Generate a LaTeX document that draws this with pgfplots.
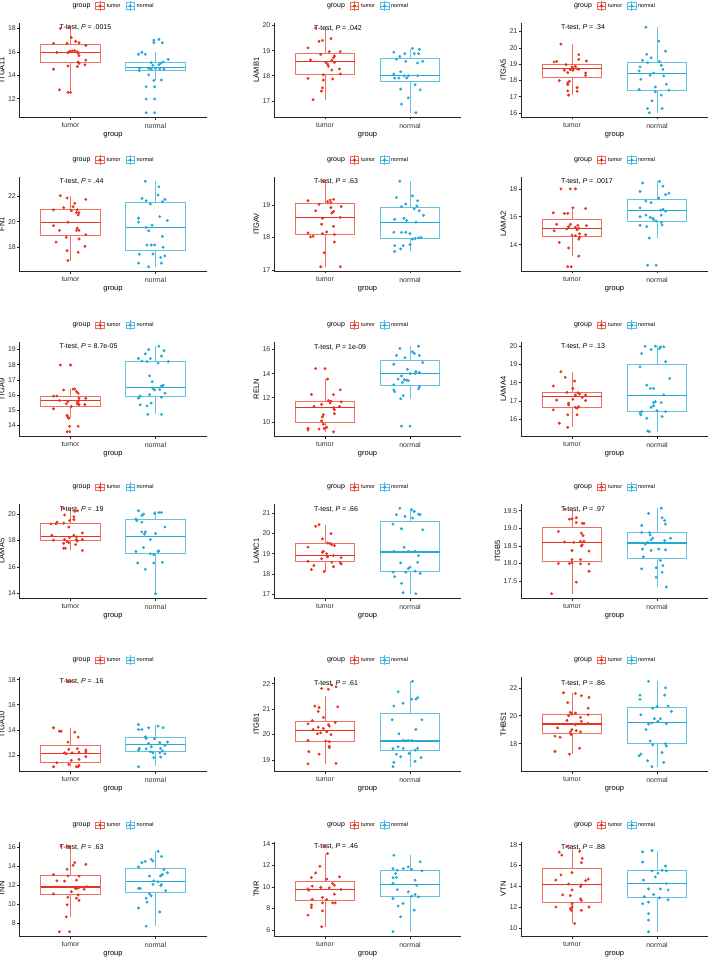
\documentclass[border=0pt]{standalone}
\usepackage{fontspec}
\setmainfont{Liberation Sans}
\usepackage{pgfplots}
\pgfplotsset{compat=1.18}
\definecolor{tumorc}{HTML}{E8341E}
\definecolor{normalc}{HTML}{22A9D8}
\newcommand{\glyph}[1]{\draw[#1!75, line width=0.6pt] (0pt,-3.2pt) rectangle (8.5pt,3.2pt); \draw[#1!75, line width=0.6pt] (0pt,0pt)--(8.5pt,0pt) (4.25pt,-4.8pt)--(4.25pt,4.8pt); \fill[#1] (4.25pt,0pt) circle (1.3pt);}
\newcommand{\leg}{%
\addlegendimage{empty legend}\addlegendentry{\fontsize{7}{8}\selectfont group}
\addlegendimage{legend image code/.code={\glyph{tumorc}}}\addlegendentry{tumor}
\addlegendimage{legend image code/.code={\glyph{normalc}}}\addlegendentry{normal}}
\newcommand{\bxa}[9]{%
\addplot[forget plot, draw=#1!70, line width=0.9pt] coordinates {(#3,#5)(#3,#6)};
\addplot[forget plot, draw=#1!70, line width=0.9pt] coordinates {(#3,#8)(#3,#9)};
\addplot[forget plot, draw=#1!70, line width=1pt, line cap=rect] coordinates {(#2,#6)(#4,#6)(#4,#8)(#2,#8)(#2,#6)};
\addplot[forget plot, draw=#1, line width=1.2pt] coordinates {(#2,#7)(#4,#7)};}
\newcommand{\bx}[7]{\ifnum#2=1 \bxa{#1}{0.65}{1}{1.35}{#3}{#4}{#5}{#6}{#7}\else\bxa{#1}{1.65}{2}{2.35}{#3}{#4}{#5}{#6}{#7}\fi}
\newcommand{\pts}[2]{\addplot[forget plot, only marks, mark=*, mark size=1.25pt, color=#1] coordinates {#2};}
\newcommand{\ttest}[2]{\node[anchor=west, font=\fontsize{7}{8}\selectfont, inner sep=0pt] at (axis cs:0.87,#1) {T-test,\ \textit{P} = #2};}
\pgfplotsset{
 bp/.style={
  scale only axis, width=187pt, height=94pt, anchor=north west,
  enlargelimits=false,
  xmin=0.4, xmax=2.6, xtick={1,2}, xticklabels={tumor,normal}, xlabel={group},
  axis x line*=bottom, axis y line*=left,
  axis line style={line width=0.8pt, black!85, -},
  tick align=outside, major tick length=2.5pt, tick style={line width=0.6pt, black!85},
  ticklabel style={font=\fontsize{7}{8}\selectfont, text=black!80},
  yticklabel style={inner sep=1pt},
  label style={font=\fontsize{7.5}{8}\selectfont},
  xlabel style={yshift=3pt},
  ylabel style={yshift=-1pt},
  /pgf/number format/assume math mode=true,
  legend style={at={(0.5,1)}, anchor=center, yshift=17pt, draw=none, fill=none, legend columns=3, font=\fontsize{5.5}{6}\selectfont, /tikz/every even column/.append style={column sep=3pt}, inner sep=0pt, cells={anchor=center}},
 }
}
\begin{document}
\begin{tikzpicture}
\useasboundingbox (0,0) rectangle (709pt,-957pt);
% ---------- Row 1
\begin{axis}[bp, at={(19.5pt,-23pt)}, ylabel={ITGA11}, ymin=10.44, ymax=18.47, ytick={12,14,16,18}]
\leg
\bx{tumorc}{1}{12.54}{15.08}{15.96}{16.64}{18.1}
\bx{normalc}{2}{13.56}{14.4}{14.66}{15.11}{15.96}
\pts{tumorc}{(0.88,18.0)(0.98,18.1)(0.8,16.73)(1.01,17.24)(0.96,16.73)(1.06,16.9)(1.1,16.78)(1.18,16.55)(0.84,15.96)(0.97,15.93)(0.99,16.05)(1.02,16.08)(1.05,16.1)(1.08,16.0)(1.1,15.68)(1.09,15.88)(1.18,15.3)(1.09,15.14)(1.1,15.03)(1.17,14.9)(1.08,14.75)(0.97,14.8)(0.8,14.52)(0.87,12.76)(0.97,12.54)(1.0,12.54)}
\pts{normalc}{(1.98,17.0)(1.98,16.8)(2.04,17.07)(2.08,16.78)(1.8,15.8)(1.84,15.96)(1.88,15.8)(2.15,15.37)(2.09,15.14)(2.06,15.03)(2.04,14.9)(1.95,15.08)(1.97,14.86)(1.92,14.6)(1.95,14.52)(2.0,14.6)(2.05,14.55)(2.1,14.52)(1.81,14.6)(1.81,14.4)(1.92,14.04)(1.98,13.56)(2.07,13.6)(1.89,13.02)(1.99,13.02)(1.89,11.97)(1.99,11.97)(1.89,10.8)(1.99,10.8)}
\ttest{18.1}{.0015}
\end{axis}
\begin{axis}[bp, at={(274pt,-23pt)}, ylabel={LAMB1}, ymin=16.36, ymax=20.1, ytick={17,18,19,20}]
\leg
\bx{tumorc}{1}{17.05}{18.04}{18.57}{18.89}{19.9}
\bx{normalc}{2}{16.53}{17.77}{18.02}{18.7}{19.05}
\pts{tumorc}{(0.89,19.9)(0.97,19.41)(0.93,19.37)(1.07,19.48)(0.8,19.11)(1.18,18.96)(1.05,18.96)(0.95,18.85)(1.11,18.79)(1.1,18.72)(1.08,18.62)(0.83,18.63)(1.01,18.53)(1.03,18.46)(1.11,18.53)(1.04,18.38)(1.17,18.27)(1.08,18.23)(1.18,18.07)(0.98,18.04)(0.8,17.9)(1.09,17.87)(0.98,17.83)(0.97,17.52)(0.96,17.39)(0.86,17.05)}
\pts{normalc}{(2.03,19.09)(2.11,19.05)(1.81,18.94)(1.94,18.88)(2.05,18.88)(2.1,18.88)(1.88,18.77)(1.84,18.66)(1.95,18.57)(2.15,18.57)(2.09,18.51)(1.89,18.16)(1.81,18.07)(1.98,18.0)(1.93,18.0)(2.09,18.0)(1.82,17.91)(1.87,17.91)(1.96,17.91)(2.06,17.64)(1.89,17.47)(2.12,17.44)(1.98,17.12)(1.9,16.87)(2.07,16.53)}
\ttest{19.9}{.042}
\end{axis}
\begin{axis}[bp, at={(521pt,-23pt)}, ylabel={ITGA5}, ymin=15.76, ymax=21.52, ytick={16,17,18,19,20,21}]
\leg
\bx{tumorc}{1}{17.1}{18.15}{18.72}{18.99}{20.23}
\bx{normalc}{2}{16.02}{17.4}{18.42}{19.09}{21.26}
\pts{tumorc}{(0.87,20.23)(1.08,19.58)(1.08,19.29)(1.17,19.19)(0.79,19.13)(0.82,19.17)(0.93,18.97)(1.0,18.83)(1.04,18.87)(1.02,18.72)(1.06,18.72)(0.98,18.66)(1.01,18.62)(1.08,18.68)(0.91,18.62)(0.95,18.48)(1.16,18.46)(1.16,18.3)(0.85,17.99)(0.97,17.95)(0.95,17.85)(0.95,17.75)(1.06,17.56)(0.95,17.36)(1.06,17.34)(0.96,17.1)}
\pts{normalc}{(1.87,21.26)(2.02,20.41)(2.1,19.8)(1.88,19.6)(1.93,19.39)(1.83,19.23)(1.89,19.09)(2.03,19.17)(2.05,18.93)(1.8,18.83)(2.07,18.68)(1.79,18.58)(1.96,18.46)(1.92,18.32)(2.08,18.28)(1.81,18.07)(2.11,17.77)(1.98,17.6)(1.79,17.44)(2.14,17.4)(1.98,17.3)(2.05,17.1)(1.94,16.75)(1.89,16.28)(2.06,16.28)(1.91,16.02)}
\ttest{21.26}{.34}
\end{axis}
% ---------- Row 2
\begin{axis}[bp, at={(19.5pt,-177pt)}, ylabel={FN1}, ymin=16.15, ymax=23.49, ytick={18,20,22}]
\leg
\bx{tumorc}{1}{16.97}{18.9}{19.94}{20.92}{22.03}
\bx{normalc}{2}{16.48}{17.77}{19.55}{21.48}{23.16}
\pts{tumorc}{(0.88,22.03)(0.96,21.85)(1.18,21.74)(1.05,21.43)(1.03,21.17)(0.92,21.1)(0.8,20.92)(1.01,20.86)(1.08,20.92)(1.07,20.71)(1.1,20.71)(1.09,20.53)(0.97,19.96)(0.8,19.7)(0.87,19.32)(1.08,19.5)(1.07,19.32)(1.1,19.32)(1.18,18.98)(0.95,18.77)(1.1,18.65)(0.83,18.41)(1.17,18.08)(0.96,17.74)(1.09,17.61)(0.97,16.97)}
\pts{normalc}{(1.88,23.16)(2.04,22.72)(2.03,22.08)(1.84,21.82)(2.11,21.74)(1.89,21.64)(2.08,21.56)(1.94,21.38)(1.8,20.27)(1.8,19.96)(2.05,20.4)(2.14,20.09)(1.96,19.73)(1.89,19.55)(1.92,19.29)(2.08,18.85)(1.9,18.18)(1.95,18.18)(1.99,18.18)(2.09,18.0)(1.81,17.46)(1.97,17.48)(2.11,17.33)(2.06,17.2)(1.8,16.76)(2.07,16.76)(1.92,16.48)}
\ttest{23.16}{.44}
\end{axis}
\begin{axis}[bp, at={(274pt,-177pt)}, ylabel={ITGAV}, ymin=16.97, ymax=19.86, ytick={17,18,19}]
\leg
\bx{tumorc}{1}{17.1}{18.1}{18.62}{19.05}{19.73}
\bx{normalc}{2}{17.57}{17.98}{18.47}{18.92}{19.73}
\pts{tumorc}{(0.98,19.73)(0.8,19.13)(0.93,19.02)(1.03,19.1)(1.06,19.15)(1.1,19.17)(1.07,19.07)(1.19,18.95)(1.07,18.92)(0.89,18.82)(1.1,18.8)(1.08,18.75)(0.97,18.59)(1.18,18.62)(0.96,18.41)(0.97,18.12)(1.02,18.17)(1.1,18.34)(0.8,18.14)(0.83,18.02)(0.86,18.04)(1.11,18.09)(1.11,17.86)(0.99,17.53)(0.95,17.1)(1.18,17.1)}
\pts{normalc}{(1.88,19.73)(1.84,19.23)(2.03,19.28)(2.09,19.13)(1.95,19.03)(1.9,18.95)(2.08,18.97)(2.05,18.88)(2.11,18.82)(2.16,18.68)(1.82,18.56)(1.93,18.59)(1.96,18.52)(2.07,18.47)(1.81,18.16)(1.9,18.16)(1.95,18.16)(2.0,18.12)(2.06,17.97)(2.1,17.99)(2.13,18.0)(2.03,17.95)(1.82,17.75)(1.92,17.75)(2.0,17.78)(1.89,17.65)(1.82,17.57)}
\ttest{19.73}{.63}
\end{axis}
\begin{axis}[bp, at={(521pt,-177pt)}, ylabel={LAMA2}, ymin=12.11, ymax=18.85, ytick={14,16,18}]
\leg
\bx{tumorc}{1}{13.18}{14.59}{15.18}{15.81}{16.64}
\bx{normalc}{2}{14.47}{15.69}{16.42}{17.22}{18.54}
\pts{tumorc}{(0.87,18.0)(0.98,18.0)(1.04,18.0)(1.01,16.64)(1.16,16.59)(0.78,16.28)(0.91,16.24)(0.95,16.24)(0.82,15.46)(0.98,15.46)(1.07,15.39)(1.17,15.36)(0.96,15.29)(1.04,15.25)(0.94,15.13)(1.08,15.18)(1.06,15.06)(0.79,14.99)(1.09,14.78)(1.0,14.68)(1.04,14.64)(1.16,14.71)(1.09,14.54)(1.08,14.4)(0.85,14.16)(0.96,13.76)(1.08,13.18)(0.95,12.42)(0.99,12.42)}
\pts{normalc}{(1.83,18.42)(2.03,18.54)(1.8,17.81)(2.07,18.19)(2.14,17.69)(2.1,17.58)(2.02,17.34)(1.87,17.13)(1.93,17.01)(1.8,16.64)(2.07,16.54)(2.04,16.47)(2.1,16.4)(1.87,16.12)(2.05,16.12)(1.8,16.0)(1.92,15.95)(1.95,15.88)(1.96,15.81)(1.99,15.69)(2.05,15.6)(2.06,15.41)(1.8,15.39)(1.88,15.29)(1.91,14.47)(1.89,12.52)(1.99,12.52)}
\ttest{18.5}{.0017}
\end{axis}
% ---------- Row 3
\begin{axis}[bp, at={(19.5pt,-342pt)}, ylabel={ITGA9}, ymin=13.29, ymax=19.5, ytick={14,15,16,17,18,19}]
\leg
\bx{tumorc}{1}{14.46}{15.26}{15.63}{15.91}{16.39}
\bx{normalc}{2}{14.72}{15.87}{16.5}{18.2}{19.22}
\pts{tumorc}{(0.88,17.98)(1.0,17.98)(0.92,16.33)(1.03,16.39)(1.05,16.39)(1.07,16.22)(1.09,16.11)(0.8,15.93)(0.84,15.93)(1.18,15.78)(1.1,15.8)(0.87,15.63)(1.1,15.63)(0.97,15.57)(1.08,15.52)(0.95,15.41)(1.08,15.41)(1.1,15.37)(1.17,15.37)(1.01,15.24)(0.8,15.09)(0.96,14.65)(0.97,14.54)(0.98,14.46)(0.99,13.93)(1.09,13.93)(0.96,13.57)(0.99,13.57)}
\pts{normalc}{(2.04,19.22)(1.92,19.0)(2.1,18.93)(1.8,18.41)(1.88,18.72)(1.94,18.41)(2.07,18.57)(1.84,18.24)(1.9,18.2)(2.03,18.11)(2.15,18.2)(1.93,17.26)(1.96,16.87)(2.09,16.65)(2.07,16.59)(1.97,16.43)(1.99,16.33)(2.05,16.35)(2.11,16.11)(1.93,16.02)(1.82,15.93)(1.8,15.8)(2.07,15.85)(1.95,15.46)(1.82,15.35)(1.9,15.28)(1.91,14.72)(2.07,14.72)}
\ttest{19.22}{8.7e-05}
\end{axis}
\begin{axis}[bp, at={(274pt,-342pt)}, ylabel={RELN}, ymin=8.83, ymax=16.62, ytick={10,12,14,16}]
\leg
\bx{tumorc}{1}{9.18}{9.95}{11.17}{11.66}{13.55}
\bx{normalc}{2}{11.91}{13.0}{14.04}{15.1}{16.27}
\pts{tumorc}{(0.89,14.42)(1.0,14.42)(1.03,13.55)(0.84,12.26)(1.1,12.26)(1.18,12.65)(1.04,11.77)(1.07,11.72)(1.19,11.66)(1.06,11.56)(0.96,11.45)(0.87,11.28)(1.17,11.28)(1.1,11.17)(1.11,11.01)(1.11,10.68)(0.98,10.6)(0.97,10.41)(0.96,10.08)(0.98,9.81)(1.02,9.54)(0.99,9.45)(0.8,9.45)(0.8,9.32)(0.93,9.4)(1.1,9.18)}
\pts{normalc}{(1.88,16.08)(2.1,16.27)(2.03,15.81)(2.05,15.67)(2.11,15.51)(1.84,15.51)(1.94,15.32)(1.81,14.77)(2.15,14.91)(1.97,14.36)(2.07,14.17)(2.06,14.01)(2.0,14.01)(2.11,14.09)(1.9,13.82)(1.86,13.55)(1.93,13.49)(1.96,13.46)(1.98,13.41)(1.91,13.27)(1.81,13.08)(2.11,12.92)(2.1,12.73)(1.81,12.65)(1.82,12.51)(1.92,12.18)(1.89,11.91)(1.9,9.65)(2.0,9.65)}
\ttest{16.15}{1e-09}
\end{axis}
\begin{axis}[bp, at={(521pt,-342pt)}, ylabel={LAMA4}, ymin=15.08, ymax=20.23, ytick={16,17,18,19,20}]
\leg
\bx{tumorc}{1}{15.55}{16.64}{17.24}{17.47}{18.6}
\bx{normalc}{2}{15.31}{16.42}{17.29}{19.0}{20.0}
\pts{tumorc}{(0.87,18.6)(0.92,18.29)(1.03,18.09)(0.78,17.82)(1.01,17.69)(0.94,17.47)(1.07,17.45)(1.09,17.38)(1.04,17.33)(1.16,17.33)(1.12,17.2)(1.01,17.09)(0.82,17.05)(1.16,17.02)(0.96,16.87)(0.96,16.78)(1.08,16.69)(1.04,16.65)(1.06,16.6)(0.78,16.51)(0.95,16.24)(1.06,16.24)(0.85,15.78)(0.95,15.55)}
\pts{normalc}{(1.86,20.0)(1.98,20.0)(2.04,19.96)(2.08,19.96)(2.03,19.87)(1.93,19.82)(1.82,19.6)(2.1,19.15)(1.8,18.87)(2.15,18.24)(1.88,17.87)(1.92,17.69)(1.96,17.69)(2.08,17.33)(1.98,16.96)(1.96,16.91)(2.05,16.91)(1.96,16.73)(1.93,16.65)(1.82,16.42)(1.8,16.33)(1.81,16.24)(2.1,16.42)(2.0,16.47)(2.06,16.15)(1.88,16.05)(1.89,15.36)(1.91,15.31)}
\ttest{20.0}{.13}
\end{axis}
% ---------- Row 4
\begin{axis}[bp, at={(19.5pt,-504pt)}, ylabel={LAMA5}, ymin=13.66, ymax=20.76, ytick={14,16,18,20}]
\leg
\bx{tumorc}{1}{17.25}{17.99}{18.28}{19.31}{20.44}
\bx{normalc}{2}{13.98}{17.0}{18.33}{19.56}{20.25}
\pts{tumorc}{(0.92,20.44)(1.08,20.25)(1.05,20.2)(0.93,19.93)(1.04,19.8)(1.04,19.58)(0.84,19.39)(0.99,19.51)(0.77,19.26)(0.92,19.31)(0.83,19.26)(0.98,19.02)(0.78,18.4)(1.04,18.4)(1.07,18.28)(0.99,18.23)(1.14,18.57)(0.93,18.08)(1.07,18.08)(0.96,17.91)(1.08,17.96)(1.14,18.08)(0.8,18.03)(0.92,17.79)(0.98,17.84)(1.06,17.7)(0.92,17.42)(0.94,17.42)(1.14,17.25)}
\pts{normalc}{(1.8,20.25)(1.99,20.05)(2.04,20.12)(2.07,20.12)(1.86,20.0)(1.84,19.9)(1.77,19.63)(1.78,19.51)(1.84,19.39)(2.11,19.02)(1.84,18.65)(1.88,18.65)(2.0,18.53)(1.87,18.48)(1.94,18.08)(1.86,17.47)(1.77,17.17)(2.03,17.17)(2.04,17.22)(1.94,17.0)(1.98,16.93)(1.79,16.31)(1.98,16.31)(2.08,16.36)(1.88,15.82)(2.0,13.98)}
\ttest{20.35}{.19}
\end{axis}
\begin{axis}[bp, at={(274pt,-504pt)}, ylabel={LAMC1}, ymin=16.82, ymax=21.45, ytick={17,18,19,20,21}]
\leg
\bx{tumorc}{1}{18.13}{18.6}{18.91}{19.48}{20.4}
\bx{normalc}{2}{17.03}{18.13}{19.09}{20.59}{21.24}
\pts{tumorc}{(0.93,20.43)(0.89,20.35)(1.07,19.99)(0.97,19.73)(1.03,19.53)(1.06,19.5)(1.08,19.45)(1.11,19.4)(0.8,19.33)(0.98,19.12)(0.97,19.07)(1.02,19.0)(1.1,18.91)(1.03,18.85)(1.19,18.8)(0.96,18.75)(0.8,18.63)(1.08,18.58)(1.18,18.55)(1.19,18.5)(0.87,18.42)(1.1,18.36)(0.84,18.22)(0.99,18.13)}
\pts{normalc}{(1.88,21.24)(2.05,21.08)(2.02,21.16)(2.1,20.95)(2.12,20.92)(1.84,20.92)(1.94,20.84)(2.03,20.76)(1.8,20.46)(1.9,20.23)(2.15,20.18)(1.93,19.32)(1.81,19.12)(1.98,19.12)(2.06,19.12)(2.1,18.91)(1.89,18.55)(2.09,18.58)(2.0,18.34)(1.98,18.27)(1.8,18.09)(1.95,18.09)(2.06,18.14)(2.12,18.03)(1.82,17.87)(1.9,17.54)(1.92,17.08)(2.07,17.03)}
\ttest{21.2}{.66}
\end{axis}
\begin{axis}[bp, at={(521pt,-504pt)}, ylabel={ITGB5}, ymin=17.02, ymax=19.69, ytick={17.5,18,18.5,19,19.5}, yticklabel style={/pgf/number format/.cd, fixed, fixed zerofill, precision=1}]
\leg
\bx{tumorc}{1}{17.14}{18.06}{18.6}{19.02}{19.54}
\bx{normalc}{2}{17.33}{18.14}{18.58}{18.88}{19.57}
\pts{tumorc}{(0.92,19.54)(0.97,19.26)(1.0,19.27)(1.05,19.3)(1.05,19.16)(1.12,19.14)(1.14,19.14)(0.84,18.91)(1.11,18.86)(1.13,18.79)(0.91,18.61)(1.02,18.6)(1.1,18.63)(1.14,18.63)(1.12,18.53)(1.11,18.5)(1.0,18.37)(1.2,18.35)(1.0,18.11)(1.1,18.11)(1.0,18.02)(0.84,18.0)(0.97,18.0)(1.1,17.99)(1.2,17.99)(1.2,17.78)(1.05,17.47)(0.76,17.14)}
\pts{normalc}{(2.05,19.57)(1.9,19.42)(2.06,19.3)(2.09,19.22)(2.1,19.12)(1.82,19.08)(1.82,18.88)(1.91,18.88)(1.92,18.81)(1.95,18.72)(2.16,18.72)(2.09,18.65)(1.93,18.67)(1.89,18.6)(1.86,18.55)(2.02,18.41)(1.83,18.41)(1.93,18.37)(2.1,18.39)(1.84,18.19)(2.04,18.09)(2.07,17.94)(1.99,17.88)(1.82,17.85)(2.06,17.75)(1.99,17.61)(2.11,17.33)}
\ttest{19.54}{.97}
\end{axis}
% ---------- Row 5
\begin{axis}[bp, at={(19.5pt,-677pt)}, ylabel={ITGA10}, ymin=10.73, ymax=18.21, ytick={12,14,16,18}]
\leg
\bx{tumorc}{1}{11.07}{11.44}{12.13}{12.77}{14.17}
\bx{normalc}{2}{11.1}{12.32}{12.85}{13.37}{14.43}
\pts{tumorc}{(0.97,17.87)(1.0,17.87)(0.8,14.17)(0.87,13.9)(0.89,13.9)(1.05,13.82)(1.09,13.43)(0.97,13.03)(1.08,12.5)(0.98,12.45)(1.18,12.4)(1.18,12.24)(0.93,12.18)(0.95,12.1)(1.02,12.18)(1.1,12.24)(1.18,11.87)(1.1,11.66)(1.01,11.58)(0.84,11.39)(0.98,11.26)(1.1,11.18)(1.07,11.07)(0.8,11.07)(1.09,11.07)}
\pts{normalc}{(1.8,14.43)(1.92,14.17)(2.03,14.3)(2.09,14.17)(1.8,14.03)(1.84,14.03)(1.88,13.45)(1.89,13.32)(1.99,13.29)(2.14,13.03)(2.05,12.98)(1.92,12.92)(2.11,12.77)(1.95,12.66)(1.81,12.53)(1.89,12.5)(1.8,12.4)(2.06,12.53)(2.08,12.32)(1.94,12.26)(1.97,12.18)(2.05,12.18)(2.11,12.1)(1.98,11.79)(2.06,11.84)(1.8,11.07)}
\ttest{17.87}{.16}
\end{axis}
\begin{axis}[bp, at={(274pt,-677pt)}, ylabel={ITGB1}, ymin=18.57, ymax=22.26, ytick={19,20,21,22}]
\leg
\bx{tumorc}{1}{18.85}{19.72}{20.17}{20.52}{21.5}
\bx{normalc}{2}{18.74}{19.36}{19.75}{20.84}{22.09}
\pts{tumorc}{(1.08,21.94)(1.13,21.87)(0.96,21.81)(1.04,21.78)(0.88,21.12)(0.93,21.06)(1.15,21.09)(0.92,20.91)(0.98,20.67)(1.12,20.48)(0.8,20.42)(0.85,20.55)(1.04,20.39)(1.05,20.33)(0.92,20.29)(0.98,20.24)(0.86,20.2)(1.02,20.11)(0.91,20.03)(0.95,20.07)(1.07,20.0)(0.8,19.77)(1.01,19.75)(1.05,19.72)(1.05,19.55)(1.05,19.49)(0.81,19.33)(0.93,19.23)(0.8,18.85)(1.13,18.87)}
\pts{normalc}{(2.03,22.09)(1.86,21.68)(2.09,21.45)(2.02,21.39)(2.07,21.39)(1.92,21.23)(1.81,21.12)(1.79,20.58)(2.14,20.58)(1.87,20.03)(2.07,20.2)(1.95,19.75)(1.92,19.77)(1.98,19.77)(2.02,19.77)(1.86,19.52)(1.8,19.45)(1.92,19.46)(2.06,19.39)(2.09,19.46)(1.99,19.26)(1.84,19.23)(1.89,19.13)(2.13,19.1)(1.81,18.91)(2.06,18.95)(1.8,18.74)}
\ttest{22.0}{.61}
\end{axis}
\begin{axis}[bp, at={(521pt,-677pt)}, ylabel={THBS1}, ymin=16.04, ymax=22.78, ytick={18,20,22}]
\leg
\bx{tumorc}{1}{17.25}{18.7}{19.41}{20.12}{21.6}
\bx{normalc}{2}{16.35}{18.0}{19.53}{20.59}{22.47}
\pts{tumorc}{(1.04,21.6)(0.9,21.65)(1.11,21.44)(1.2,21.32)(0.95,20.94)(1.19,20.54)(0.98,20.24)(1.04,20.19)(1.0,20.12)(1.19,20.07)(0.96,20.0)(1.1,19.88)(0.94,19.67)(1.11,19.6)(1.19,19.44)(1.04,19.36)(0.83,19.13)(1.0,19.01)(1.05,18.94)(1.1,18.85)(0.98,18.85)(0.86,18.47)(0.8,18.54)(0.99,18.66)(0.8,17.44)(1.09,17.67)(0.97,17.25)}
\pts{normalc}{(1.9,22.47)(2.1,22.0)(1.8,21.48)(1.8,21.18)(2.09,21.48)(1.81,20.07)(1.95,20.54)(2.0,20.66)(2.13,20.71)(2.17,20.31)(2.04,19.79)(1.97,19.79)(2.01,19.6)(1.94,19.48)(1.9,19.41)(2.11,19.44)(1.87,19.01)(1.92,18.19)(2.1,18.0)(2.11,17.84)(1.95,17.91)(1.81,17.25)(2.06,17.36)(1.79,17.13)(1.89,16.78)(2.08,16.66)(1.94,16.35)}
\ttest{22.35}{.86}
\end{axis}
% ---------- Row 6
\begin{axis}[bp, at={(19.5pt,-842pt)}, ylabel={TNN}, ymin=6.61, ymax=16.55, ytick={8,10,12,14,16}]
\leg
\bx{tumorc}{1}{8.63}{11.03}{11.79}{13.04}{16.1}
\bx{normalc}{2}{7.65}{11.24}{12.35}{13.76}{15.55}
\pts{tumorc}{(0.89,16.1)(0.97,16.1)(0.99,16.0)(1.05,14.37)(1.03,14.09)(1.18,14.19)(0.96,13.67)(0.8,13.11)(0.97,12.97)(1.1,12.94)(0.84,12.45)(0.93,12.42)(1.07,12.52)(1.19,11.83)(1.1,11.76)(1.06,11.65)(1.08,11.65)(1.16,11.55)(1.01,11.3)(0.8,11.06)(1.09,10.96)(0.97,10.71)(1.07,10.61)(1.1,10.37)(0.96,9.91)(0.95,8.63)(0.87,7.06)(0.99,7.06)}
\pts{normalc}{(2.03,15.55)(2.07,15.03)(1.95,14.71)(1.97,14.54)(1.88,14.5)(1.84,14.37)(1.8,13.91)(2.1,13.63)(2.14,13.29)(2.08,13.11)(2.06,12.97)(1.93,12.94)(1.98,12.45)(2.03,12.35)(1.97,12.07)(2.07,12.07)(2.06,11.93)(1.82,11.65)(1.8,11.65)(2.12,11.41)(1.93,11.06)(1.95,10.85)(1.89,10.61)(1.9,10.19)(1.8,9.57)(2.05,9.15)(1.89,7.65)}
\ttest{16.0}{.63}
\end{axis}
\begin{axis}[bp, at={(274pt,-842pt)}, ylabel={TNR}, ymin=5.45, ymax=14.15, ytick={6,8,10,12,14}]
\leg
\bx{tumorc}{1}{6.31}{8.71}{9.75}{10.49}{13.08}
\bx{normalc}{2}{5.85}{9.14}{10.25}{11.54}{12.98}
\pts{tumorc}{(1.0,13.75)(1.03,13.08)(0.94,11.91)(0.89,11.29)(0.84,10.86)(1.02,10.71)(1.17,10.92)(1.09,10.31)(1.11,10.15)(0.85,10.06)(0.95,9.94)(0.8,9.82)(1.05,9.91)(0.81,9.69)(1.19,9.75)(1.11,9.32)(0.97,9.02)(0.85,8.83)(1.02,8.83)(1.09,8.52)(1.12,8.52)(0.97,8.52)(0.84,8.31)(0.84,8.09)(0.97,7.78)(0.8,7.38)(0.96,6.31)}
\pts{normalc}{(1.81,12.92)(2.12,12.31)(1.8,11.69)(1.85,11.54)(1.92,11.69)(1.98,11.85)(2.02,11.6)(2.14,11.48)(1.83,11.23)(1.8,10.86)(1.84,10.86)(2.06,10.62)(1.8,10.31)(2.08,10.15)(1.85,9.75)(1.98,9.54)(2.06,9.29)(2.02,9.14)(2.1,9.08)(1.8,8.92)(1.92,8.46)(1.86,8.22)(2.05,7.85)(1.89,7.23)(1.8,5.85)}
\ttest{13.75}{.46}
\end{axis}
\begin{axis}[bp, at={(521pt,-842pt)}, ylabel={VTN}, ymin=9.24, ymax=18.25, ytick={10,12,14,16,18}]
\leg
\bx{tumorc}{1}{10.44}{12.46}{14.16}{15.73}{17.84}
\bx{normalc}{2}{9.65}{12.9}{14.28}{15.48}{17.43}
\pts{tumorc}{(0.94,17.84)(0.85,17.28)(0.88,16.99)(1.09,17.37)(1.12,16.68)(1.11,16.27)(1.0,15.32)(0.87,15.1)(1.19,14.69)(0.81,14.6)(1.16,14.54)(0.96,14.22)(1.11,14.16)(1.1,13.97)(1.0,13.65)(0.89,13.18)(0.98,13.12)(1.1,12.8)(1.11,12.65)(1.0,12.33)(0.81,12.02)(1.0,12.02)(1.2,12.02)(0.98,11.86)(0.99,11.7)(1.11,11.7)(1.03,10.44)}
\pts{normalc}{(1.83,17.31)(1.94,17.43)(1.83,16.33)(2.1,15.95)(2.11,15.48)(1.94,15.48)(2.06,15.54)(2.01,15.26)(1.84,14.6)(1.98,14.91)(2.11,14.28)(1.9,13.75)(2.04,13.75)(2.13,13.65)(1.96,13.21)(1.85,13.02)(2.03,12.9)(2.13,12.71)(1.83,12.33)(1.9,12.49)(1.9,11.39)(1.9,10.76)(1.9,9.65)}
\ttest{17.75}{.88}
\end{axis}
\end{tikzpicture}
\end{document}
